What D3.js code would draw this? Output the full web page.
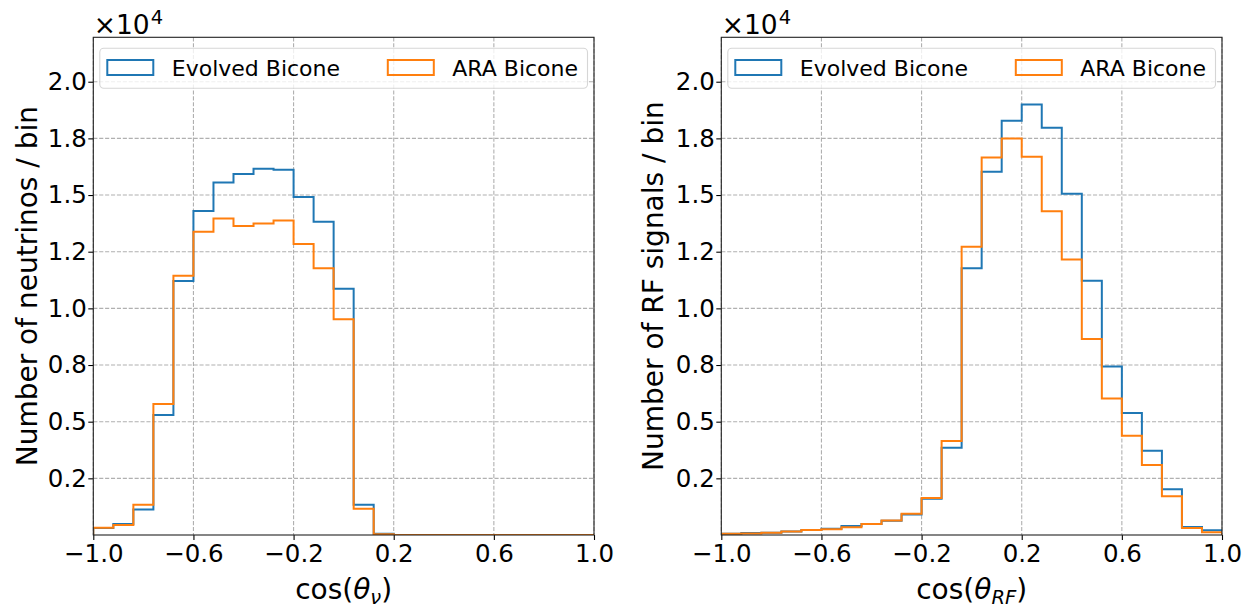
<!DOCTYPE html>
<html>
<head>
<meta charset="utf-8">
<script src="https://cdn.jsdelivr.net/npm/d3@7"></script>
<style>
body { margin: 0; background: #fff; }
text { font-family: "DejaVu Sans", sans-serif; fill: #000; }
</style>
</head>
<body>
<div id="chart"></div>
<script>
// Histogram bins (25 bins over cos = -1..1)
var binEdges = [-1.0, -0.92, -0.84, -0.76, -0.68, -0.6, -0.52, -0.44, -0.36, -0.28, -0.2, -0.12, -0.04,
                0.04, 0.12, 0.2, 0.28, 0.36, 0.44, 0.52, 0.6, 0.68, 0.76, 0.84, 0.92, 1.0];

// Ticks
var xTicks = [-1.0, -0.6, -0.2, 0.2, 0.6, 1.0];
var xTickLabels = ["\u22121.0", "\u22120.6", "\u22120.2", "0.2", "0.6", "1.0"];
var yTicks = [2500, 5000, 7500, 10000, 12500, 15000, 17500, 20000];
var yTickLabels = ["0.2", "0.5", "0.8", "1.0", "1.2", "1.5", "1.8", "2.0"];
var yMax = 21960;

var seriesNames = ["Evolved Bicone", "ARA Bicone"];
var seriesColors = ["#1f77b4", "#ff7f0e"];

// Left panel: neutrino direction
var nuEvolved = [310, 480, 1120, 5290, 11210, 14300, 15550, 15930, 16160, 16120, 14910, 13820, 10870,
                 1340, 60, 0, 0, 0, 0, 0, 0, 0, 0, 0, 0];
var nuAra = [320, 440, 1340, 5780, 11440, 13380, 13970, 13630, 13740, 13880, 12840, 11770, 9520,
             1160, 30, 0, 0, 0, 0, 0, 0, 0, 0, 0, 0];

// Right panel: RF signal direction
var rfEvolved = [50, 90, 100, 150, 220, 280, 400, 490, 630, 900, 1600, 3850, 11770,
                 16030, 18280, 18990, 17970, 15060, 11220, 7440, 5380, 3720, 2020, 350, 210];
var rfAra = [50, 70, 100, 150, 220, 250, 340, 480, 640, 940, 1630, 4150, 12720,
             16660, 17490, 16690, 14280, 12160, 8650, 6020, 4380, 3090, 1710, 310, 120];

// Layout
var W = 1252, H = 608;
var plotTop = 37.3, plotBottom = 535;
var tickFont = 24.5, labelFont = 28, legendFont = 22, offsetFont = 26.5;

var panels = [
  { axL: 93.3, axR: 594, ylabel: "Number of neutrinos / bin", ylabelGap: 56,
    xlabelSub: "\u03bd", series: [nuEvolved, nuAra] },
  { axL: 721.3, axR: 1222, ylabel: "Number of RF signals / bin", ylabelGap: 58,
    xlabelSub: "RF", series: [rfEvolved, rfAra] }
];

var svg = d3.select("#chart")
  .append("svg")
  .attr("width", W)
  .attr("height", H)
  .style("background", "white");

panels.forEach(function(p, pi) {
  var x = d3.scaleLinear().domain([-1, 1]).range([p.axL, p.axR]);
  var y = d3.scaleLinear().domain([0, yMax]).range([plotBottom, plotTop]);
  var g = svg.append("g");

  // clip for plot area
  var clipId = "clip" + pi;
  svg.append("clipPath").attr("id", clipId)
    .append("rect")
    .attr("x", p.axL).attr("y", plotTop)
    .attr("width", p.axR - p.axL).attr("height", plotBottom - plotTop);

  // grid
  g.selectAll(".vgrid").data(xTicks).enter().append("line")
    .attr("x1", d => x(d)).attr("x2", d => x(d))
    .attr("y1", plotTop).attr("y2", plotBottom)
    .attr("stroke", "#b0b0b0").attr("stroke-width", 1.1)
    .attr("stroke-dasharray", "4.1,1.8");
  g.selectAll(".hgrid").data(yTicks).enter().append("line")
    .attr("x1", p.axL).attr("x2", p.axR)
    .attr("y1", d => y(d)).attr("y2", d => y(d))
    .attr("stroke", "#b0b0b0").attr("stroke-width", 1.1)
    .attr("stroke-dasharray", "4.1,1.8");

  // step histograms
  var line = d3.line().x(d => x(d[0])).y(d => y(d[1]));
  p.series.forEach(function(vals, si) {
    var pts = [[binEdges[0], 0]];
    vals.forEach(function(v, i) {
      pts.push([binEdges[i], v]);
      pts.push([binEdges[i + 1], v]);
    });
    pts.push([binEdges[binEdges.length - 1], 0]);
    g.append("path")
      .attr("d", line(pts))
      .attr("fill", "none")
      .attr("stroke", seriesColors[si])
      .attr("stroke-width", 2)
      .attr("stroke-linejoin", "miter")
      .attr("clip-path", "url(#" + clipId + ")");
  });

  // axes
  var xAxis = d3.axisBottom(x).tickValues(xTicks)
    .tickFormat((d, i) => xTickLabels[i]).tickSizeInner(5).tickSizeOuter(0).tickPadding(4.5);
  var gx = g.append("g").attr("transform", `translate(0,${plotBottom})`).call(xAxis);
  var yAxis = d3.axisLeft(y).tickValues(yTicks)
    .tickFormat((d, i) => yTickLabels[i]).tickSizeInner(5).tickSizeOuter(0).tickPadding(1.5);
  var gy = g.append("g").attr("transform", `translate(${p.axL},0)`).call(yAxis);
  [gx, gy].forEach(function(a) {
    a.select(".domain").remove();
    a.selectAll(".tick line").attr("stroke", "#000").attr("stroke-width", 1.1);
    a.selectAll(".tick text").attr("font-size", tickFont)
      .attr("font-family", "DejaVu Sans").attr("fill", "#000");
  });

  // spines
  g.append("rect")
    .attr("x", p.axL).attr("y", plotTop)
    .attr("width", p.axR - p.axL).attr("height", plotBottom - plotTop)
    .attr("fill", "none").attr("stroke", "#222").attr("stroke-width", 1.1);

  // offset text x10^4
  var off = g.append("text").attr("x", p.axL + 0.5).attr("y", 33.5).attr("font-size", offsetFont);
  off.append("tspan").text("\u00d710");
  off.append("tspan").attr("font-size", 19.5).attr("dx", 1).attr("dy", -9.5).text("4");

  // x label
  var xl = g.append("text")
    .attr("x", (p.axL + p.axR) / 2).attr("y", 599)
    .attr("text-anchor", "middle").attr("font-size", labelFont);
  xl.append("tspan").text("cos(");
  xl.append("tspan").attr("font-style", "italic").text("\u03b8");
  xl.append("tspan").attr("font-style", "italic").attr("font-size", 19.5).attr("dy", 5).text(p.xlabelSub);
  xl.append("tspan").attr("dy", -5).text(")");

  // y label
  g.append("text")
    .attr("transform", `translate(${p.axL - p.ylabelGap},${(plotTop + plotBottom) / 2}) rotate(-90)`)
    .attr("text-anchor", "middle").attr("font-size", labelFont)
    .text(p.ylabel);

  // legend
  var lx0 = p.axL + 6.5, lx1 = p.axR - 6.5, ly0 = 48.3, ly1 = 88.3;
  var leg = g.append("g");
  leg.append("rect")
    .attr("x", lx0).attr("y", ly0).attr("width", lx1 - lx0).attr("height", ly1 - ly0)
    .attr("rx", 4).attr("ry", 4)
    .attr("fill", "white").attr("fill-opacity", 0.8)
    .attr("stroke", "#d6d6d6").attr("stroke-width", 1.1);
  var colX = [lx0 + 7.5, lx0 + 288];
  seriesNames.forEach(function(name, si) {
    leg.append("rect")
      .attr("x", colX[si]).attr("y", 60).attr("width", 46).attr("height", 15)
      .attr("fill", "none").attr("stroke", seriesColors[si]).attr("stroke-width", 2);
    leg.append("text")
      .attr("x", colX[si] + 64.5).attr("y", 76)
      .attr("font-size", legendFont)
      .text(name);
  });
});
</script>
</body>
</html>
